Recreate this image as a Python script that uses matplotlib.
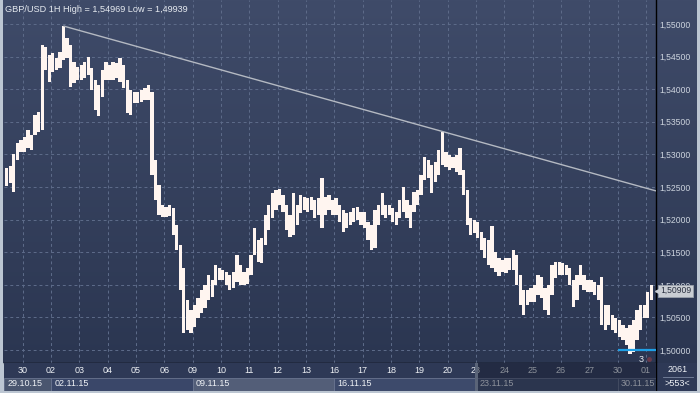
import numpy as np
import matplotlib.pyplot as plt
import matplotlib.transforms as mtransforms
from matplotlib.patches import Rectangle

plt.rcParams['font.family'] = ['Liberation Sans', 'DejaVu Sans']

# trading days shown on the axis (29.10.15 is only partly visible)
day_labels = ['29', '30', '02', '03', '04', '05', '06', '09', '10', '11', '12', '13',
              '16', '17', '18', '19', '20', '23', '24', '25', '26', '27', '30', '01']
week_labels = ['29.10.15', '02.11.15', '09.11.15', '16.11.15', '23.11.15', '30.11.15']
week_start_days = [0, 2, 7, 12, 17, 22]
first_block = 3          # first 3-hour block shown on 29.10
blocks_per_day = 8

# 3-hour highs / lows, one list per day
highs = [
    [1.5279, 1.5282, 1.5300, 1.5318, 1.5322],
    [1.5327, 1.5337, 1.5330, 1.5360, 1.5365, 1.5468, 1.5465, 1.5452],
    [1.5455, 1.5448, 1.5457, 1.5497, 1.5479, 1.5468, 1.5442, 1.5434],
    [1.5437, 1.5442, 1.5449, 1.5433, 1.5414, 1.5406, 1.5429, 1.5442],
    [1.5437, 1.5442, 1.5440, 1.5448, 1.5437, 1.5414, 1.5399, 1.5396],
    [1.5396, 1.5399, 1.5402, 1.5406, 1.5396, 1.5291, 1.5253, 1.5222],
    [1.5219, 1.5222, 1.5218, 1.5192, 1.5161, 1.5126, 1.5077, 1.5061],
    [1.5069, 1.5080, 1.5092, 1.5100, 1.5115, 1.5107, 1.5130, 1.5126],
    [1.5123, 1.5120, 1.5115, 1.5120, 1.5146, 1.5130, 1.5120, 1.5126],
    [1.5146, 1.5187, 1.5169, 1.5172, 1.5207, 1.5222, 1.5241, 1.5245],
    [1.5247, 1.5238, 1.5222, 1.5207, 1.5241, 1.5222, 1.5238, 1.5235],
    [1.5233, 1.5235, 1.5230, 1.5233, 1.5264, 1.5235, 1.5238, 1.5230],
    [1.5233, 1.5222, 1.5215, 1.5210, 1.5212, 1.5218, 1.5219, 1.5212],
    [1.5212, 1.5196, 1.5192, 1.5215, 1.5222, 1.5241, 1.5222, 1.5222],
    [1.5218, 1.5212, 1.5230, 1.5250, 1.5230, 1.5222, 1.5242, 1.5245],
    [1.5268, 1.5296, 1.5291, 1.5284, 1.5288, 1.5307, 1.5334, 1.5304],
    [1.5299, 1.5296, 1.5299, 1.5310, 1.5276, 1.5245, 1.5202, 1.5199],
    [1.5196, 1.5181, 1.5172, 1.5169, 1.5190, 1.5150, 1.5141, 1.5138],
    [1.5141, 1.5141, 1.5153, 1.5146, 1.5115, 1.5092, 1.5092, 1.5095],
    [1.5100, 1.5115, 1.5112, 1.5095, 1.5100, 1.5130, 1.5135, 1.5135],
    [1.5133, 1.5130, 1.5126, 1.5107, 1.5115, 1.5130, 1.5115, 1.5107],
    [1.5107, 1.5104, 1.5100, 1.5112, 1.5069, 1.5069, 1.5054, 1.5049],
    [1.5046, 1.5038, 1.5034, 1.5038, 1.5046, 1.5061, 1.5069, 1.5069],
    [1.5089, 1.5100],
]
lows = [
    [1.5251, 1.5256, 1.5242, 1.5291, 1.5304],
    [1.5304, 1.5310, 1.5307, 1.5330, 1.5334, 1.5337, 1.5429, 1.5411],
    [1.5426, 1.5429, 1.5433, 1.5445, 1.5448, 1.5403, 1.5410, 1.5414],
    [1.5414, 1.5417, 1.5422, 1.5399, 1.5368, 1.5359, 1.5388, 1.5414],
    [1.5414, 1.5414, 1.5417, 1.5411, 1.5402, 1.5364, 1.5360, 1.5379],
    [1.5379, 1.5380, 1.5383, 1.5383, 1.5268, 1.5230, 1.5207, 1.5204],
    [1.5204, 1.5206, 1.5176, 1.5153, 1.5092, 1.5026, 1.5031, 1.5026],
    [1.5035, 1.5049, 1.5057, 1.5064, 1.5077, 1.5081, 1.5100, 1.5107],
    [1.5107, 1.5100, 1.5092, 1.5095, 1.5104, 1.5100, 1.5100, 1.5101],
    [1.5115, 1.5146, 1.5135, 1.5133, 1.5161, 1.5184, 1.5202, 1.5215],
    [1.5222, 1.5212, 1.5184, 1.5173, 1.5176, 1.5192, 1.5210, 1.5215],
    [1.5212, 1.5215, 1.5202, 1.5207, 1.5187, 1.5207, 1.5215, 1.5207],
    [1.5207, 1.5196, 1.5181, 1.5187, 1.5192, 1.5196, 1.5199, 1.5192],
    [1.5187, 1.5169, 1.5153, 1.5156, 1.5192, 1.5207, 1.5202, 1.5207],
    [1.5196, 1.5192, 1.5202, 1.5212, 1.5202, 1.5187, 1.5212, 1.5222],
    [1.5238, 1.5261, 1.5264, 1.5241, 1.5258, 1.5268, 1.5284, 1.5281],
    [1.5276, 1.5279, 1.5273, 1.5268, 1.5238, 1.5192, 1.5176, 1.5179],
    [1.5172, 1.5153, 1.5141, 1.5130, 1.5126, 1.5120, 1.5113, 1.5120],
    [1.5118, 1.5123, 1.5123, 1.5100, 1.5069, 1.5054, 1.5069, 1.5074],
    [1.5074, 1.5084, 1.5080, 1.5061, 1.5054, 1.5084, 1.5110, 1.5115],
    [1.5115, 1.5115, 1.5100, 1.5066, 1.5077, 1.5100, 1.5092, 1.5089],
    [1.5089, 1.5084, 1.5077, 1.5038, 1.5031, 1.5038, 1.5031, 1.5026],
    [1.5020, 1.5015, 1.5008, 1.4994, 1.4997, 1.5015, 1.5031, 1.5049],
    [1.5049, 1.5077],
]

price_ticks = [1.500, 1.505, 1.510, 1.515, 1.520, 1.525, 1.530, 1.535, 1.540, 1.545, 1.550]
period_high = 1.54969
period_low = 1.49939
last_price = 1.50909
trend_start = (2.4375, 1.54969)
trend_end = (23.354, 1.5244)
support_level = 1.5000
support_from_day = 22

x_min, x_max = 0.34, 23.354
y_min, y_max = 1.49801, 1.55368

# flatten the blocks
xs, hs, ls = [], [], []
for d, (hh, ll) in enumerate(zip(highs, lows)):
    start = first_block if d == 0 else 0
    for k, (h, l) in enumerate(zip(hh, ll)):
        xs.append(d + (start + k + 0.5) / blocks_per_day)
        hs.append(h)
        ls.append(l)
xs = np.array(xs)
hs = np.array(hs)
ls = np.array(ls)

W, H = 700, 393
fig = plt.figure(figsize=(7, 3.93), dpi=100)
fig.patch.set_facecolor('#bcc6d2')

# gradient background for chart + price scale
ax_bg = fig.add_axes([3 / W, 30 / H, 694 / W, 363 / H])
grad = np.linspace(0, 1, 256).reshape(-1, 1)
c_top = np.array([0x3f, 0x4b, 0x69]) / 255
c_bot = np.array([0x2b, 0x36, 0x51]) / 255
img = c_top[None, None, :] * (1 - grad[..., None]) + c_bot[None, None, :] * grad[..., None]
ax_bg.imshow(img, aspect='auto', extent=[0, 1, 0, 1])
ax_bg.set_axis_off()

ax = fig.add_axes([4 / W, 30 / H, 652 / W, 363 / H])
ax.set_facecolor('none')
ax.set_xlim(x_min, x_max)
ax.set_ylim(y_min, y_max)

ax.bar(xs, hs - ls, bottom=ls, width=0.115, color='#fff5f0', linewidth=0, zorder=3)

ax.plot([trend_start[0], trend_end[0]], [trend_start[1], trend_end[1]],
        color='#b4b9c2', lw=1.0, zorder=4, solid_capstyle='butt')
ax.plot([support_from_day, x_max], [support_level, support_level],
        color='#1ea0e6', lw=1.6, zorder=4, solid_capstyle='butt')
ax.text(22.83, 1.49862, '3', color='#e8ecf2', fontsize=6.5, ha='center', va='center', zorder=5)
ax.plot([23.1], [1.49862], 'o', ms=2.5, color='#6a3a4a', zorder=5)

ax.set_yticks(price_ticks)
ax.set_yticklabels([f'{p:.5f}'.replace('.', ',') for p in price_ticks])
ax.yaxis.tick_right()
ax.tick_params(axis='y', length=0, pad=2.6, labelsize=6.2, labelcolor='#cdd4de')
ax.set_xticks(range(1, len(day_labels)))
ax.tick_params(axis='x', length=0, labelbottom=False)
ax.grid(True, color='#5e6c8a', lw=0.7, ls=(0, (3, 3)))
ax.set_axisbelow(True)
for s in ['left', 'top']:
    ax.spines[s].set_visible(False)
ax.spines['right'].set_color('black')
ax.spines['bottom'].set_color('black')
ax.spines['right'].set_linewidth(1)
ax.spines['bottom'].set_linewidth(1)

# last price tag
tr = mtransforms.blended_transform_factory(ax.transAxes, ax.transData)
ax.text(1.006, last_price, '1,50909', transform=tr, fontsize=6.2, color='#2a3040',
        va='center', ha='left', clip_on=False, zorder=6,
        bbox=dict(boxstyle='square,pad=0.18', fc='#c9cdd3', ec='#9aa0aa', lw=0.6))
ax.plot([1.0035], [last_price], marker='<', ms=4, color='#c9cdd3', transform=tr,
        clip_on=False, zorder=6)

fig.text(5 / W, 1 - 10 / H, 'GBP/USD 1H High = 1,54969 Low = 1,49939',
         fontsize=6.6, color='#e6eaf0', va='center', ha='left')

# bottom time scale
ax_t = fig.add_axes([4 / W, 2 / H, 652 / W, 28 / H])
ax_t.set_xlim(x_min, x_max)
ax_t.set_ylim(28, 0)
ax_t.set_axis_off()
ax_t.add_patch(Rectangle((x_min, 0), x_max - x_min, 28, fc='#2e3956', ec='none', zorder=0))
for i, lab in enumerate(day_labels[1:], start=1):
    ax_t.text(i, 7.5, lab, fontsize=6.5, color='#eef1f5', ha='center', va='center', zorder=2)
face = ['#4a566f', '#3a4769', '#535e78', '#3d4a6b', '#3d4a6b', '#3d4a6b']
for j, (ws, wl) in enumerate(zip(week_start_days, week_labels)):
    x0 = max(ws, x_min)
    x1 = week_start_days[j + 1] if j + 1 < len(week_start_days) else x_max
    ax_t.add_patch(Rectangle((x0, 14.5), x1 - x0, 13, fc=face[j], ec='#6a7590', lw=0.6, zorder=1))
    ax_t.text(x0 + 0.12, 21, wl, fontsize=6.5, color='#eef1f5', ha='left', va='center', zorder=2)
shade_from = 17.07
ax_t.add_patch(Rectangle((shade_from, 0), x_max - shade_from, 28, fc='#161c2c', alpha=0.45,
                         ec='none', zorder=3))
ax_t.add_patch(Rectangle((shade_from - 0.1, 0), 0.1, 28, fc='#5a6478', ec='none', zorder=3))

# bottom-right corner box
ax_c = fig.add_axes([656 / W, 2 / H, 41 / W, 28 / H])
ax_c.set_xlim(0, 41)
ax_c.set_ylim(28, 0)
ax_c.set_axis_off()
ax_c.add_patch(Rectangle((0, 0), 41, 28, fc='#2e3956', ec='none'))
ax_c.plot([7, 37], [14, 14], color='#7a86a0', lw=0.6)
ax_c.text(22, 7, '2061', fontsize=6.5, color='#eef1f5', ha='center', va='center')
ax_c.text(21, 21, '>553<', fontsize=6.5, color='#eef1f5', ha='center', va='center')
ax_c.plot([0.3, 0.3], [0, 28], color='black', lw=1)

fig.savefig('out.png', dpi=100, facecolor=fig.get_facecolor())
